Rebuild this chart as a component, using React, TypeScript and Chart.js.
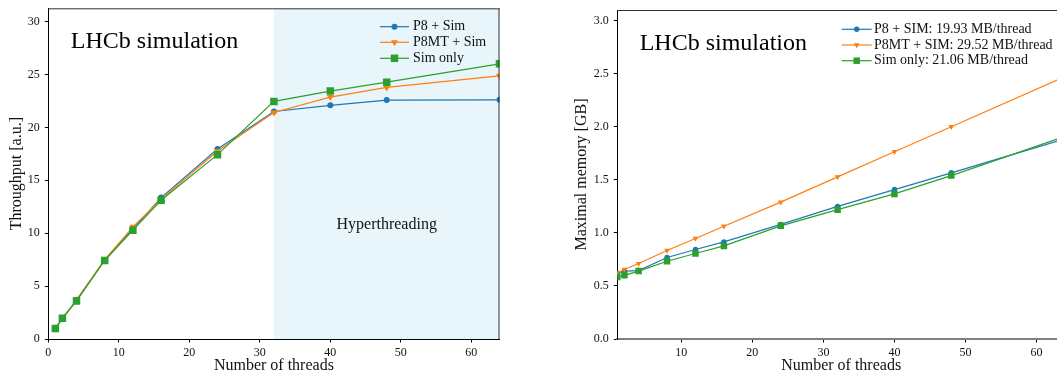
import React, { useEffect, useRef } from 'react';
import { Chart, registerables } from 'chart.js';

Chart.register(...registerables);

const SERIF = '"Liberation Serif", "Times New Roman", Times, serif';
const BLUE = '#1f77b4';
const ORANGE = '#ff7f0e';
const GREEN = '#2ca02c';

// ---- data ----
const threads = [1, 2, 4, 8, 12, 16, 24, 32, 40, 48, 64];
const throughputP8 = [1.0, 1.95, 3.7, 7.45, 10.4, 13.36, 17.95, 21.5, 22.08, 22.58, 22.6];
const throughputP8MT = [1.0, 1.95, 3.65, 7.5, 10.6, 13.2, 17.77, 21.4, 22.86, 23.77, 24.87];
const throughputSim = [1.0, 1.95, 3.58, 7.42, 10.28, 13.11, 17.42, 22.45, 23.43, 24.27, 26.0];

const memoryP8 = [0.62, 0.64, 0.645, 0.768, 0.843, 0.915, 1.08, 1.25, 1.408, 1.566, 1.885];
const memoryP8MT = [0.626, 0.655, 0.711, 0.834, 0.947, 1.063, 1.29, 1.528, 1.765, 2.0, 2.472];
const memorySim = [0.585, 0.6, 0.64, 0.733, 0.806, 0.877, 1.066, 1.219, 1.367, 1.54, 1.91];

const leftLabels = ['P8 + Sim', 'P8MT + Sim', 'Sim only'];
const rightLabels = ['P8 + SIM: 19.93 MB/thread', 'P8MT + SIM: 29.52 MB/thread', 'Sim only: 21.06 MB/thread'];

const leftXTicks = [0, 10, 20, 30, 40, 50, 60];
const leftYTicks = [0, 5, 10, 15, 20, 25, 30];
const rightXTicks = [10, 20, 30, 40, 50, 60];
const rightYTicks = [0, 0.5, 1.0, 1.5, 2.0, 2.5, 3.0];

const hyperStart = 32;
const hyperEnd = 64;

type MarkerStyle = 'circle' | 'triangleDown' | 'square';

function drawMarker(ctx: CanvasRenderingContext2D, style: MarkerStyle, x: number, y: number, r: number, color: string) {
  ctx.save();
  ctx.fillStyle = color;
  ctx.beginPath();
  if (style === 'circle') {
    ctx.arc(x, y, r, 0, Math.PI * 2);
  } else if (style === 'triangleDown') {
    ctx.moveTo(x, y + r);
    ctx.lineTo(x - r * 0.866, y - r * 0.5);
    ctx.lineTo(x + r * 0.866, y - r * 0.5);
    ctx.closePath();
  } else {
    const s = r * Math.SQRT1_2;
    ctx.rect(x - s, y - s, 2 * s, 2 * s);
  }
  ctx.fill();
  ctx.restore();
}

function makeDataset(label: string, xs: number[], ys: number[], color: string, style: MarkerStyle, r: number, order: number) {
  return {
    label,
    data: xs.map((x, i) => ({ x, y: ys[i] })),
    borderColor: color,
    backgroundColor: color,
    borderWidth: 1.2,
    pointStyle: style === 'circle' ? 'circle' : style === 'square' ? 'rect' : 'triangle',
    rotation: style === 'triangleDown' ? 180 : 0,
    pointRadius: r,
    pointBorderWidth: 0,
    pointBackgroundColor: color,
    tension: 0,
    clip: 0,
    order,
  };
}

function axisCommon(ticks: number[], fmt: (v: number) => string, size: number, isX: boolean, title: string, titlePad: any, borderColor: string, borderWidth: number) {
  return {
    type: 'linear',
    afterBuildTicks: (scale: any) => {
      scale.ticks = ticks.map((v) => ({ value: v }));
    },
    afterFit: (scale: any) => {
      if (isX) scale.height = size;
      else scale.width = size;
      scale.paddingTop = 0;
      scale.paddingBottom = 0;
      scale.paddingLeft = 0;
      scale.paddingRight = 0;
    },
    grid: { drawOnChartArea: false, drawTicks: true, tickLength: 3.5, color: '#000', lineWidth: 1 },
    border: { display: true, color: borderColor, width: borderWidth },
    ticks: {
      color: '#111',
      font: { family: SERIF, size: 12 },
      padding: isX ? 3 : 5,
      maxRotation: 0,
      autoSkip: false,
      callback: (v: any) => fmt(Number(v)),
    },
    title: {
      display: true,
      text: title,
      color: '#111',
      font: { family: SERIF, size: 16, lineHeight: 1 },
      padding: titlePad,
    },
  };
}

type LegendItem = { label: string; color: string; style: MarkerStyle; r: number };

function decoPlugin(cfg: {
  shade: boolean;
  legend: LegendItem[];
  legendX1: number;
  legendX2: number;
  legendText: number;
  legendRows: number[];
  legendFromRight: boolean;
}) {
  return {
    id: 'deco',
    beforeDraw(chart: any) {
      if (!cfg.shade) return;
      const { ctx, chartArea } = chart;
      const xs = chart.scales.x;
      const x0 = xs.getPixelForValue(hyperStart);
      const x1 = xs.getPixelForValue(hyperEnd);
      ctx.save();
      ctx.fillStyle = '#e8f5fb';
      ctx.fillRect(x0, chartArea.top, x1 - x0, chartArea.bottom - chartArea.top);
      ctx.restore();
    },
    afterDraw(chart: any) {
      const { ctx, chartArea } = chart;
      const { left, right, top, bottom } = chartArea;
      ctx.save();
      // frame (top & right spines)
      ctx.strokeStyle = '#333';
      ctx.lineWidth = 1;
      ctx.beginPath();
      ctx.moveTo(left, top + 0.5);
      ctx.lineTo(right, top + 0.5);
      ctx.moveTo(right - 0.5, top);
      ctx.lineTo(right - 0.5, bottom);
      ctx.stroke();

      // title text
      ctx.fillStyle = '#000';
      ctx.font = `24px ${SERIF}`;
      ctx.textAlign = 'left';
      ctx.textBaseline = 'alphabetic';
      ctx.fillText('LHCb simulation', left + 0.05 * (right - left), top + 39.5);

      if (cfg.shade) {
        const xs = chart.scales.x;
        const ys = chart.scales.y;
        ctx.font = `16px ${SERIF}`;
        ctx.textAlign = 'center';
        ctx.fillStyle = '#111';
        ctx.fillText('Hyperthreading', xs.getPixelForValue((hyperStart + hyperEnd) / 2), ys.getPixelForValue(10.4));
      }

      // legend
      const base = cfg.legendFromRight ? right : left;
      cfg.legend.forEach((it, i) => {
        const y = top + cfg.legendRows[i];
        const x1 = base + cfg.legendX1;
        const x2 = base + cfg.legendX2;
        ctx.strokeStyle = it.color;
        ctx.lineWidth = 1.2;
        ctx.beginPath();
        ctx.moveTo(x1, y);
        ctx.lineTo(x2, y);
        ctx.stroke();
        drawMarker(ctx, it.style, (x1 + x2) / 2, y, it.r, it.color);
        ctx.fillStyle = '#111';
        ctx.font = `14px ${SERIF}`;
        ctx.textAlign = 'left';
        ctx.textBaseline = 'middle';
        ctx.fillText(it.label, base + cfg.legendText, y);
      });
      ctx.restore();
    },
  };
}

function ThroughputChart() {
  const ref = useRef<HTMLCanvasElement>(null);
  useEffect(() => {
    const canvas = ref.current!;
    const chart = new Chart(canvas, {
      type: 'line',
      data: {
        datasets: [
          makeDataset(leftLabels[0], threads, throughputP8, BLUE, 'circle', 3, 2),
          makeDataset(leftLabels[1], threads, throughputP8MT, ORANGE, 'triangleDown', 4, 1),
          makeDataset(leftLabels[2], threads, throughputSim, GREEN, 'square', 5.3, 0),
        ] as any,
      },
      options: {
        animation: false,
        responsive: false,
        devicePixelRatio: 1,
        layout: { padding: { left: 5, right: 20.5, top: 8.3, bottom: 0 } },
        plugins: { legend: { display: false }, tooltip: { enabled: false } },
        scales: {
          x: { ...axisCommon(leftXTicks, (v) => String(v), 35, true, 'Number of threads', { top: 0, bottom: 0 }, '#000', 1), min: 0, max: 64 },
          y: { ...axisCommon(leftYTicks, (v) => String(v), 43.3, false, 'Throughput [a.u.]', { top: 4, bottom: 0 }, '#000', 1), min: 0, max: 31.25 },
        } as any,
      },
      plugins: [
        decoPlugin({
          shade: true,
          legend: [
            { label: leftLabels[0], color: BLUE, style: 'circle', r: 3 },
            { label: leftLabels[1], color: ORANGE, style: 'triangleDown', r: 4 },
            { label: leftLabels[2], color: GREEN, style: 'square', r: 5.3 },
          ],
          legendX1: -119.5,
          legendX2: -90.5,
          legendText: -86.5,
          legendRows: [18.4, 34, 50],
          legendFromRight: true,
        }) as any,
      ],
    });
    return () => chart.destroy();
  }, []);
  return <canvas ref={ref} width={520} height={374} style={{ position: 'absolute', left: 0, top: 0, width: 520, height: 374 }} />;
}

function MemoryChart() {
  const ref = useRef<HTMLCanvasElement>(null);
  useEffect(() => {
    const canvas = ref.current!;
    const chart = new Chart(canvas, {
      type: 'line',
      data: {
        datasets: [
          makeDataset(rightLabels[0], threads, memoryP8, BLUE, 'circle', 2.7, 2),
          makeDataset(rightLabels[1], threads, memoryP8MT, ORANGE, 'triangleDown', 3.3, 1),
          makeDataset(rightLabels[2], threads, memorySim, GREEN, 'square', 4.6, 0),
        ] as any,
      },
      options: {
        animation: false,
        responsive: false,
        devicePixelRatio: 1,
        layout: { padding: { left: 45, right: 5, top: 10, bottom: 0 } },
        plugins: { legend: { display: false }, tooltip: { enabled: false } },
        scales: {
          x: { ...axisCommon(rightXTicks, (v) => String(v), 35, true, 'Number of threads', { top: 0, bottom: 0 }, '#808080', 2), min: 1, max: 64 },
          y: { ...axisCommon(rightYTicks, (v) => v.toFixed(1), 47.3, false, 'Maximal memory [GB]', { top: 4, bottom: 0 }, '#000', 1), min: 0, max: 3.1 },
        } as any,
      },
      plugins: [
        decoPlugin({
          shade: false,
          legend: [
            { label: rightLabels[0], color: BLUE, style: 'circle', r: 2.7 },
            { label: rightLabels[1], color: ORANGE, style: 'triangleDown', r: 3.3 },
            { label: rightLabels[2], color: GREEN, style: 'square', r: 4.6 },
          ],
          legendX1: 224.4,
          legendX2: 254.4,
          legendText: 256.7,
          legendRows: [19.3, 35, 50.7],
          legendFromRight: false,
        }) as any,
      ],
    });
    return () => chart.destroy();
  }, []);
  return <canvas ref={ref} width={545} height={374} style={{ position: 'absolute', left: 525, top: 0, width: 545, height: 374 }} />;
}

export default function App() {
  return (
    <div style={{ position: 'absolute', left: 0, top: 0, width: 1057, height: 374, overflow: 'hidden', background: '#fff' }}>
      <ThroughputChart />
      <MemoryChart />
    </div>
  );
}
